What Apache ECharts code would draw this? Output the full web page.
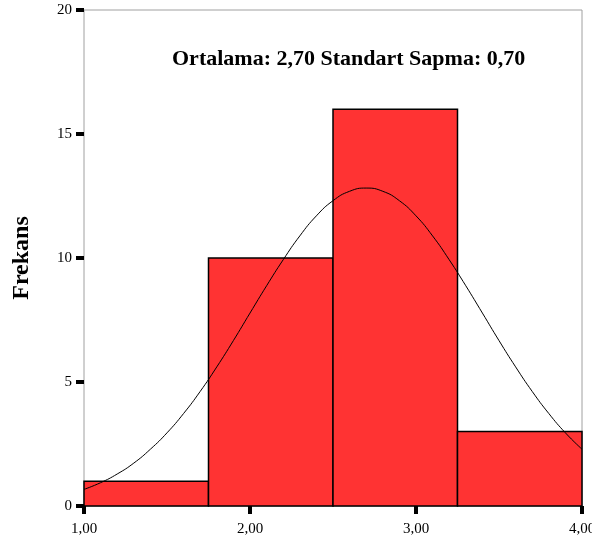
<!DOCTYPE html>
<html>
<head>
<meta charset="utf-8">
<script src="https://cdn.jsdelivr.net/npm/echarts@6/dist/echarts.min.js"></script>
<style>
  html, body { margin: 0; padding: 0; background: #fff; }
  #chart { width: 592px; height: 540px; }
</style>
</head>
<body>
<div id="chart"></div>
<script>
// histogram bins
const binStart = [1.0, 1.75, 2.5, 3.25];
const binEnd = [1.75, 2.5, 3.25, 4.0];
const counts = [1, 10, 16, 3];

// normal curve
const curveX = [1.0, 1.1, 1.2, 1.3, 1.4, 1.5, 1.6, 1.7, 1.8, 1.9, 2.0, 2.1, 2.2, 2.3, 2.4, 2.5,
  2.6, 2.7, 2.8, 2.9, 3.0, 3.1, 3.2, 3.3, 3.4, 3.5, 3.6, 3.7, 3.8, 3.9, 4.0];
const curveY = [0.67, 0.94, 1.29, 1.73, 2.29, 2.95, 3.73, 4.62, 5.61, 6.67, 7.78, 8.88, 9.93, 10.89, 11.7, 12.31,
  12.69, 12.82, 12.69, 12.31, 11.7, 10.89, 9.93, 8.88, 7.78, 6.67, 5.61, 4.62, 3.73, 2.95, 2.29];

const yTicks = [0, 5, 10, 15, 20];

const serif = 'Liberation Serif';
const chart = echarts.init(document.getElementById('chart'));

chart.setOption({
  animation: false,
  grid: {
    left: 84, right: 10, top: 10, bottom: 34,
    outerBoundsMode: 'none',
    show: true, borderColor: '#a0a0a0', borderWidth: 1, backgroundColor: '#fff'
  },
  xAxis: {
    type: 'value', min: 1, max: 4, interval: 1,
    axisLine: { show: false },
    axisTick: { show: true, length: 8, lineStyle: { color: '#000', width: 4 } },
    splitLine: { show: false },
    axisLabel: {
      margin: 16, color: '#000', fontFamily: serif, fontSize: 15,
      formatter: v => v.toFixed(2).replace('.', ',')
    }
  },
  yAxis: {
    type: 'value', min: yTicks[0], max: yTicks[yTicks.length - 1], interval: 5,
    name: 'Frekans', nameLocation: 'middle', nameGap: 50,
    nameTextStyle: { fontFamily: serif, fontSize: 24, fontWeight: 'bold', color: '#000' },
    axisLine: { show: false },
    axisTick: { show: true, length: 8, lineStyle: { color: '#000', width: 4 } },
    splitLine: { show: false },
    axisLabel: { margin: 12, color: '#000', fontFamily: serif, fontSize: 15 }
  },
  graphic: [{
    type: 'text', left: 172, top: 48, z: 100,
    style: {
      text: 'Ortalama: 2,70 Standart Sapma: 0,70',
      font: 'bold 22px "Liberation Serif"', fill: '#000'
    }
  }],
  series: [
    {
      type: 'custom',
      data: binStart.map((s, i) => [s, binEnd[i], counts[i]]),
      renderItem: (params, api) => {
        const p0 = api.coord([api.value(0), api.value(2)]);
        const p1 = api.coord([api.value(1), 0]);
        return {
          type: 'rect',
          shape: { x: p0[0], y: p0[1], width: p1[0] - p0[0], height: p1[1] - p0[1] },
          style: { fill: '#ff3333', stroke: '#000', lineWidth: 1.5 }
        };
      },
      z: 2
    },
    {
      type: 'line',
      data: curveX.map((x, i) => [x, curveY[i]]),
      smooth: true, symbol: 'none',
      lineStyle: { color: '#000', width: 1 },
      z: 5
    }
  ]
});
</script>
</body>
</html>
